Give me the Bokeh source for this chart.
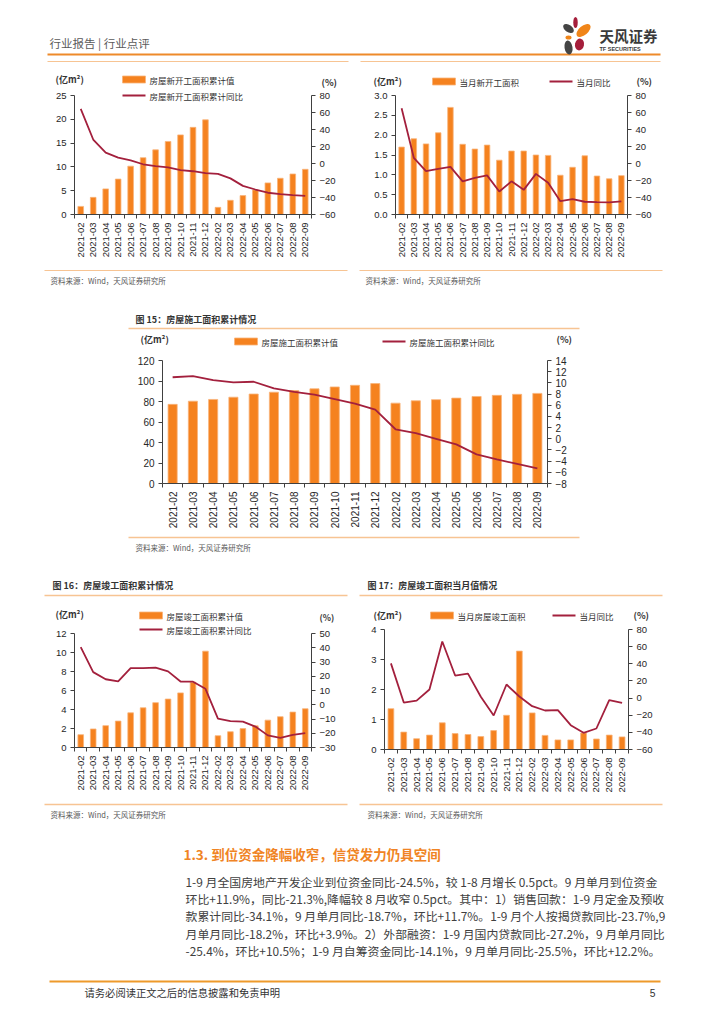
import math
from bokeh.plotting import figure
from bokeh.models import Range1d, LinearAxis, FixedTicker, NumeralTickFormatter
from bokeh.layouts import column, row
from bokeh.core.properties import value
from bokeh.embed import file_html
from bokeh.resources import INLINE

# ---------------- data ----------------
months = ["2021-02", "2021-03", "2021-04", "2021-05", "2021-06", "2021-07", "2021-08",
          "2021-09", "2021-10", "2021-11", "2021-12", "2022-02", "2022-03", "2022-04",
          "2022-05", "2022-06", "2022-07", "2022-08", "2022-09"]

new_start_cum = [1.70, 3.60, 5.38, 7.44, 10.15, 11.93, 13.58, 15.34, 16.72, 18.31, 19.89,
                 1.50, 2.98, 3.97, 5.17, 6.64, 7.61, 8.51, 9.49]
new_start_cum_yoy = [64.3, 28.2, 12.8, 6.9, 3.8, -0.9, -3.2, -4.5, -7.7, -9.1, -11.4,
                     -12.2, -17.5, -26.3, -30.6, -34.4, -36.1, -37.2, -38.0]

new_start_month = [1.70, 1.91, 1.78, 2.06, 2.70, 1.77, 1.65, 1.75, 1.37, 1.60, 1.60,
                   1.50, 1.49, 0.99, 1.19, 1.48, 0.97, 0.90, 0.98]
new_start_month_yoy = [65.0, 6.7, -9.0, -6.3, -4.0, -21.0, -17.0, -14.0, -33.0, -21.0, -31.0,
                       -12.2, -22.6, -44.3, -42.0, -45.0, -45.5, -45.7, -44.5]

construction_cum = [77.2, 80.3, 82.0, 84.2, 87.3, 89.1, 90.7, 92.4, 94.2, 95.8, 97.5,
                    78.4, 80.7, 81.8, 83.3, 84.9, 86.0, 87.0, 87.9]
construction_cum_yoy = [11.0, 11.2, 10.5, 10.1, 10.2, 9.0, 8.4, 7.9, 7.1, 6.3, 5.2,
                        1.7, 1.0, 0.0, -1.0, -2.8, -3.7, -4.5, -5.3]

completion_cum = [1.35, 1.95, 2.30, 2.78, 3.65, 4.18, 4.72, 5.10, 5.75, 6.88, 10.14,
                  1.24, 1.66, 1.99, 2.28, 2.88, 3.24, 3.73, 4.08]
completion_cum_yoy = [40.4, 22.9, 17.9, 16.4, 25.7, 25.7, 26.0, 23.4, 16.3, 16.2, 11.2,
                      -9.8, -11.5, -11.9, -15.3, -21.5, -23.3, -21.1, -19.9]

completion_month = [1.36, 0.58, 0.36, 0.48, 0.89, 0.53, 0.50, 0.43, 0.63, 1.14, 3.28,
                    1.22, 0.47, 0.32, 0.32, 0.55, 0.35, 0.48, 0.42]
completion_month_yoy = [40.5, -5.2, -2.9, 10.0, 66.0, 26.3, 28.5, 1.5, -20.3, 15.8, 1.8,
                        -9.5, -14.5, -14.0, -31.6, -40.5, -35.5, -2.5, -5.6]

ticks_c1_left = [0, 5, 10, 15, 20, 25]
ticks_c1_right = [-60, -40, -20, 0, 20, 40, 60, 80]
ticks_c2_left = [0, 0.5, 1.0, 1.5, 2.0, 2.5, 3.0]
ticks_c2_right = [-60, -40, -20, 0, 20, 40, 60, 80]
ticks_c3_left = [0, 20, 40, 60, 80, 100, 120]
ticks_c3_right = [-8, -6, -4, -2, 0, 2, 4, 6, 8, 10, 12, 14]
ticks_c4_left = [0, 2, 4, 6, 8, 10, 12]
ticks_c4_right = [-30, -20, -10, 0, 10, 20, 30, 40, 50]
ticks_c5_left = [0, 1, 2, 3, 4]
ticks_c5_right = [-60, -40, -20, 0, 20, 40, 60, 80]

paragraph = [
    "1-9 月全国房地产开发企业到位资金同比-24.5%，较 1-8 月增长 0.5pct。9 月单月到位资金",
    "环比+11.9%，同比-21.3%,降幅较 8 月收窄 0.5pct。其中：1）销售回款：1-9 月定金及预收",
    "款累计同比-34.1%，9 月单月同比-18.7%，环比+11.7%。1-9 月个人按揭贷款同比-23.7%,9",
    "月单月同比-18.2%，环比+3.9%。2）外部融资：1-9 月国内贷款同比-27.2%，9 月单月同比",
    "-25.4%，环比+10.5%；1-9 月自筹资金同比-14.1%，9 月单月同比-25.5%，环比+12.2%。",
]

# ---------------- styles ----------------
CJK = "Noto Sans CJK SC"
NUM = "Liberation Sans"
BAR = "#F5821F"
BAR_EDGE = "#F9B47A"
LINE = "#A3203D"
AXIS = "#404040"
TICKTXT = "#262626"
LIGHT = "#F7C493"
ORANGE = "#EE8A2A"
SRC = "资料来源：Wind，天风证券研究所"
IDENT = (lambda v: v, lambda v: v)


def strip(y0, y1):
    p = figure(width=708, height=y1 - y0, x_range=Range1d(8, 716), y_range=Range1d(y1, y0),
               x_axis_type=None, y_axis_type=None, toolbar_location=None,
               output_backend="svg", min_border=0)
    p.outline_line_color = None
    p.grid.visible = False
    p.frame_align = False
    return p


def txt(p, x, y, s, size, color="#333333", bold=False, font=CJK, align="left", conv=IDENT):
    dx, dy = conv
    p.text(x=[dx(x)], y=[dy(y)], text=[s], text_font=value(font), text_font_size=f"{size}px",
           text_color=color, text_baseline="middle", text_align=align,
           text_font_style="bold" if bold else "normal")


def hline(p, x0, x1, y, color=LIGHT, w=1.2):
    p.segment(x0=[x0], y0=[y], x1=[x1], y1=[y], line_color=color, line_width=w)


def leg_bar(p, px0, py, label, conv=IDENT):
    dx, dy = conv
    p.rect(x=[dx(px0 + 11.5)], y=[dy(py)], width=23, height=7, width_units="screen",
           height_units="screen", fill_color=BAR, line_color=BAR_EDGE, line_width=0.8)
    txt(p, px0 + 27, py, label, 8.5, conv=conv)


def leg_line(p, px0, py, label, conv=IDENT):
    dx, dy = conv
    p.segment(x0=[dx(px0)], y0=[dy(py)], x1=[dx(px0 + 23)], y1=[dy(py)],
              line_color=LINE, line_width=2)
    txt(p, px0 + 27, py, label, 8.5, conv=conv)


def chart(x0, x1, y0, y1, fl, fr, fb, left, ylt, right, yrt, bars, yoy, fmt=None, fs=9.5):
    lmin, lmax = left[0], left[-1]
    rmin, rmax = right[0], right[-1]
    lppu = (fb - ylt) / (lmax - lmin)
    rppu = (fb - yrt) / (rmax - rmin)
    ltop = lmin + (fb - y0) / lppu
    rtop = rmin + (fb - y0) / rppu
    n = len(months)
    p = figure(width=x1 - x0, height=y1 - y0, x_range=Range1d(-0.5, n - 0.5),
               y_range=Range1d(lmin, ltop), toolbar_location=None, output_backend="svg",
               min_border_left=fl - x0, min_border_right=x1 - fr, min_border_top=0,
               min_border_bottom=y1 - fb)
    p.frame_align = False
    p.outline_line_color = None
    p.grid.visible = False
    p.extra_y_ranges = {"r": Range1d(rmin, rtop)}
    xs = list(range(n))
    p.vbar(x=xs, top=bars, width=0.45, fill_color=BAR, line_color=BAR_EDGE, line_width=0.8)
    p.line(x=xs, y=yoy, y_range_name="r", line_color=LINE, line_width=1.8)

    xa = p.xaxis[0]
    xa.ticker = FixedTicker(ticks=xs, minor_ticks=[i - 0.5 for i in range(n + 1)])
    xa.major_label_overrides = {i: m for i, m in enumerate(months)}
    xa.major_label_orientation = math.pi / 2
    xa.major_tick_out = 0
    xa.major_tick_in = 0
    xa.minor_tick_out = 4
    xa.minor_tick_in = 0
    xa.minor_tick_line_color = AXIS
    xa.major_label_standoff = 4

    ya = p.yaxis[0]
    ya.ticker = FixedTicker(ticks=left)
    ya.bounds = (lmin, lmax)
    if fmt:
        ya.formatter = NumeralTickFormatter(format=fmt)
    ra = LinearAxis(y_range_name="r", ticker=FixedTicker(ticks=right), bounds=(rmin, rmax))
    p.add_layout(ra, "right")
    for a in (xa, ya, ra):
        a.major_label_text_font = NUM
        a.major_label_text_font_size = f"{fs}px"
        a.major_label_text_color = TICKTXT
        a.axis_line_color = AXIS
    for a in (ya, ra):
        a.major_tick_out = 4
        a.major_tick_in = 0
        a.major_tick_line_color = AXIS
        a.minor_tick_line_color = None
        a.major_label_standoff = 4

    def dx(px):
        return -0.5 + (px - fl) / (fr - fl) * n

    def dy(py):
        return lmin + (fb - py) / lppu

    return p, (dx, dy)


# ---------------- header (+ top of charts 1/2) ----------------
H = strip(8, 96)
txt(H, 57, 50, "行业报告 | 行业点评", 11.5, color="#5A5A5A")
hline(H, 55, 668, 62, color=ORANGE, w=2)
H.ellipse(x=[583, 576, 591, 576, 576, 587], y=[30, 36, 38, 45, 55, 52],
          width=[4.5, 12, 17, 6, 8, 9], height=[11, 7, 9, 4, 14, 12],
          angle=[0, -0.6, 0.7, 0, 0.15, -0.2],
          fill_color=["#A51E3B", "#444444", "#F08519", "#F08519", "#444444", "#A51E3B"],
          line_color=None)
txt(H, 607, 43, "天风证券", 14.5, color="#3A3A3A", bold=True)
txt(H, 607, 56.5, "TF SECURITIES", 5.5, color="#3A3A3A", bold=True, font=NUM)
hline(H, 55, 356, 69)
hline(H, 368, 668, 69)
# chart 1 top
txt(H, 63, 87, "(亿m²)", 9, bold=True)
txt(H, 329, 90, "(%)", 9, bold=True)
leg_bar(H, 130, 87, "房屋新开工面积累计值")
# chart 2 top
txt(H, 381, 89, "(亿m²)", 9, bold=True)
txt(H, 644, 89, "(%)", 9, bold=True)
leg_bar(H, 440, 89, "当月新开工面积")
leg_line(H, 557, 89, "当月同比")

# ---------------- chart 1 ----------------
c1, k1 = chart(8, 362, 96, 272, 82, 319, 222, ticks_c1_left, 103, ticks_c1_right, 103,
               new_start_cum, new_start_cum_yoy)
leg_line(c1, 130, 103, "房屋新开工面积累计同比", conv=k1)

# ---------------- chart 2 ----------------
c2, k2 = chart(362, 716, 96, 272, 403, 635, 222, ticks_c2_left, 103, ticks_c2_right, 103,
               new_start_month, new_start_month_yoy, fmt="0.0")

# ---------------- strip 1 ----------------
S1 = strip(272, 358)
hline(S1, 52, 355, 278)
hline(S1, 367, 670, 278)
txt(S1, 58, 288, SRC, 7.5, color="#595959")
txt(S1, 373, 288, SRC, 7.5, color="#595959")
txt(S1, 143, 327, "图 15：房屋施工面积累计情况", 9, bold=True)
hline(S1, 136, 587, 336, w=1.5)
txt(S1, 148, 347, "(亿m²)", 9, bold=True)
txt(S1, 564, 347, "(%)", 9, bold=True)
leg_bar(S1, 242, 349, "房屋施工面积累计值")
leg_line(S1, 390, 349, "房屋施工面积累计同比")

# ---------------- chart 3 ----------------
c3, k3 = chart(8, 716, 358, 540, 170, 555, 491, ticks_c3_left, 368, ticks_c3_right, 368,
               construction_cum, construction_cum_yoy, fs=10)

# ---------------- strip 2 ----------------
S2 = strip(540, 631)
hline(S2, 136, 587, 545, w=1.5)
txt(S2, 143, 555, SRC, 7.5, color="#595959")
txt(S2, 60, 593, "图 16：房屋竣工面积累计情况", 9, bold=True)
txt(S2, 375, 593, "图 17：房屋竣工面积当月值情况", 9, bold=True)
hline(S2, 52, 355, 603, w=1.5)
hline(S2, 367, 670, 603, w=1.5)
# chart 4 top
txt(S2, 63, 622, "(亿m²)", 9, bold=True)
txt(S2, 327, 624, "(%)", 8.5, bold=True)
leg_bar(S2, 147, 623, "房屋竣工面积累计值")
# chart 5 top
txt(S2, 381, 623, "(亿m²)", 9, bold=True)
txt(S2, 641, 623, "(%)", 9, bold=True)
leg_bar(S2, 438, 623, "当月房屋竣工面积")
leg_line(S2, 560, 623, "当月同比")

# ---------------- chart 4 ----------------
c4, k4 = chart(8, 362, 631, 805, 82, 319, 755, ticks_c4_left, 641, ticks_c4_right, 641,
               completion_cum, completion_cum_yoy)
leg_line(c4, 147, 637, "房屋竣工面积累计同比", conv=k4)

# ---------------- chart 5 ----------------
c5, k5 = chart(362, 716, 631, 805, 392, 636, 757, ticks_c5_left, 637, ticks_c5_right, 637,
               completion_month, completion_month_yoy)

# ---------------- strip 3 (text) ----------------
S3 = strip(805, 1016)
hline(S3, 52, 355, 812, w=1.5)
hline(S3, 367, 670, 812, w=1.5)
txt(S3, 58, 822, SRC, 7.5, color="#595959")
txt(S3, 375, 822, SRC, 7.5, color="#595959")
txt(S3, 191, 861, "1.3. 到位资金降幅收窄，信贷发力仍具空间", 13.5, color="#F08424", bold=True)
for i, line in enumerate(paragraph):
    txt(S3, 193, 889 + i * 17.2, line, 11.9, color="#404040")
hline(S3, 57, 668, 989, color="#EE9A2B", w=2)
txt(S3, 92, 1000, "请务必阅读正文之后的信息披露和免责申明", 10.3, color="#333333")
txt(S3, 663, 1000, "5", 10.3, color="#333333", font=NUM, align="right")

layout = column(H, row(c1, c2), S1, c3, S2, row(c4, c5), S3)

open("out.html", "w").write(file_html(layout, INLINE))
